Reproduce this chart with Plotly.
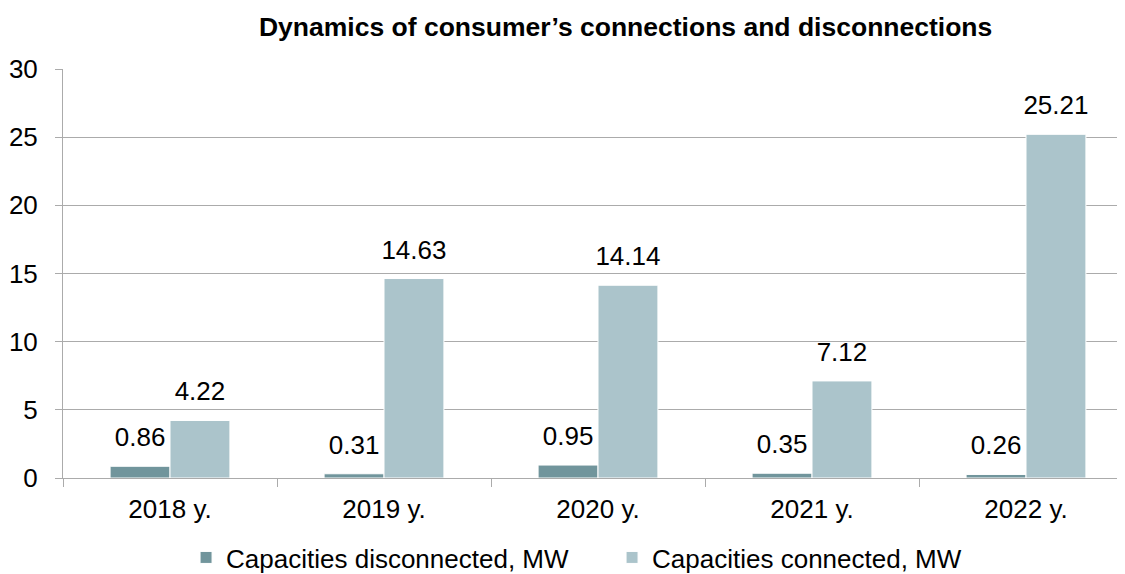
import plotly.graph_objects as go

years = ['2018 y.', '2019 y.', '2020 y.', '2021 y.', '2022 y.']
disconnected = [0.86, 0.31, 0.95, 0.35, 0.26]
connected = [4.22, 14.63, 14.14, 7.12, 25.21]

_FONT = 'Liberation Sans, Arial, sans-serif'
_GRID = '#ababab'
_SIZE = 26

series = [
    ('Capacities disconnected, MW', disconnected, '#71959c'),
    ('Capacities connected, MW', connected, '#abc4cb'),
]

fig = go.Figure()
for name, values, color in series:
    fig.add_trace(go.Bar(
        name=name,
        x=years,
        y=values,
        marker=dict(color=color, line=dict(color='white', width=1)),
    ))
# value labels, a little higher above the bars than plotly's "outside" text
for name, values, color in series:
    fig.add_trace(go.Scatter(
        x=years,
        y=values,
        mode='markers+text',
        text=[f'{v:.2f}' for v in values],
        textposition='top center',
        textfont=dict(size=_SIZE, color='black'),
        marker=dict(size=20, color='rgba(0,0,0,0)'),
        showlegend=False,
        hoverinfo='skip',
        cliponaxis=False,
    ))

fig.update_layout(
    width=1125,
    height=574,
    margin=dict(l=55, r=0, t=61, b=104, autoexpand=False),
    paper_bgcolor='white',
    plot_bgcolor='white',
    font=dict(family=_FONT, size=_SIZE, color='black'),
    title=dict(
        text='<b>Dynamics of consumer’s connections and disconnections</b>',
        x=0.549, xanchor='center', y=1 - 19 / 574, yanchor='middle',
        font=dict(size=26.5, color='black'),
    ),
    barmode='group',
    bargap=0.44,
    bargroupgap=0,
    scattermode='group',
    scattergap=0.44,
    showlegend=True,
    legend=dict(
        orientation='h', x=0.115, xanchor='left', y=-0.137, yanchor='top',
        font=dict(size=_SIZE), itemwidth=30, traceorder='normal',
        entrywidth=381,
    ),
    xaxis=dict(
        range=[-0.5, 4.5],
        showline=True, linecolor=_GRID, linewidth=1,
        ticks='outside', tickson='boundaries', ticklen=8, tickcolor=_GRID,
        ticklabelstandoff=8,
        showgrid=False,
        tickfont=dict(size=_SIZE),
    ),
    yaxis=dict(
        range=[0, 30], dtick=5,
        showline=True, linecolor=_GRID, linewidth=1,
        ticks='outside', ticklen=7, tickcolor=_GRID,
        ticklabelstandoff=12,
        gridcolor=_GRID, gridwidth=1,
        zeroline=False,
        tickfont=dict(size=_SIZE),
    ),
)

fig.write_html('out.html')
